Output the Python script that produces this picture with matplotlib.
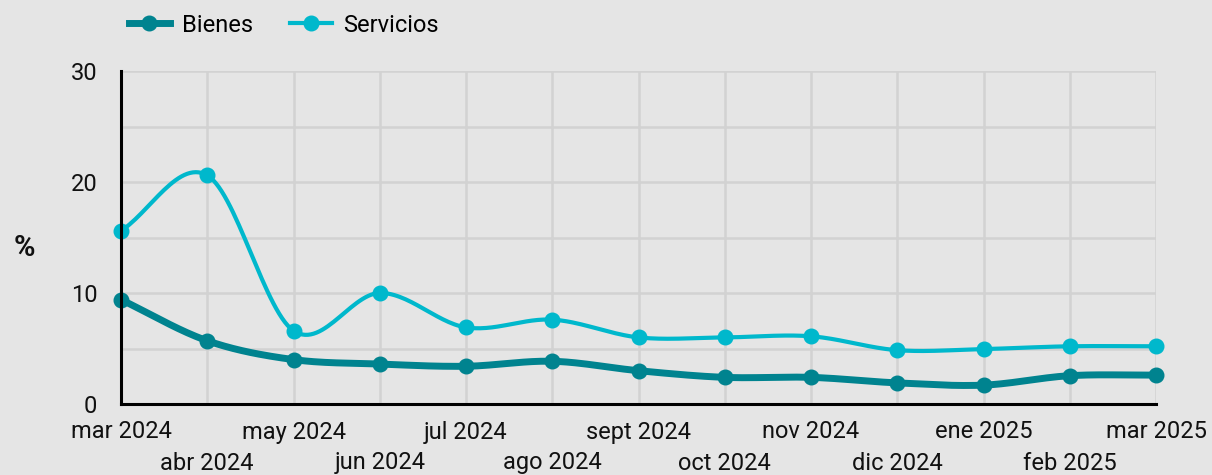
import numpy as np
import matplotlib
matplotlib.use("Agg")
import matplotlib.pyplot as plt
from matplotlib.lines import Line2D

plt.rcParams['font.family'] = ['Roboto', 'DejaVu Sans']

months = ["mar 2024", "abr 2024", "may 2024", "jun 2024", "jul 2024", "ago 2024",
          "sept 2024", "oct 2024", "nov 2024", "dic 2024", "ene 2025", "feb 2025", "mar 2025"]
bienes = [9.4, 5.7, 4.0, 3.6, 3.4, 3.85, 3.0, 2.4, 2.4, 1.9, 1.7, 2.55, 2.6]
servicios = [15.6, 20.6, 6.6, 10.0, 6.9, 7.6, 6.0, 6.0, 6.1, 4.85, 4.95, 5.2, 5.2]
yticks = [0, 10, 20, 30]

c_b = "#00838f"
c_s = "#00b8cc"
bg = "#e5e5e5"
grid_c = "#d2d2d2"


def smooth(x, y, n=30, t=0.5):
    x = np.asarray(x, float)
    y = np.asarray(y, float)
    xs, ys = [], []
    N = len(x)
    for i in range(N - 1):
        p0 = y[i - 1] if i > 0 else y[i]
        p1, p2 = y[i], y[i + 1]
        p3 = y[i + 2] if i + 2 < N else y[i + 1]
        m1 = t * (p2 - p0) / (2 if i > 0 else 1)
        m2 = t * (p3 - p1) / (2 if i + 2 < N else 1)
        s = np.linspace(0, 1, n, endpoint=False)
        h00 = 2 * s**3 - 3 * s**2 + 1
        h10 = s**3 - 2 * s**2 + s
        h01 = -2 * s**3 + 3 * s**2
        h11 = s**3 - s**2
        xs.append(x[i] + s * (x[i + 1] - x[i]))
        ys.append(h00 * p1 + h10 * m1 * 2 + h01 * p2 + h11 * m2 * 2)
    xs.append([x[-1]])
    ys.append([y[-1]])
    return np.concatenate(xs), np.concatenate(ys)


fig = plt.figure(figsize=(12.12, 4.75), dpi=100, facecolor=bg)
ax = fig.add_axes([121 / 1212, 71 / 475, (1156 - 121) / 1212, (404 - 71) / 475])
ax.set_facecolor(bg)

x = np.arange(len(months))
ax.set_xlim(0, len(months) - 1)
ax.set_ylim(0, 30)

for v in range(5, 31, 5):
    ax.axhline(v, color=grid_c, lw=1.8, zorder=0)
for xi in x:
    ax.axvline(xi, color=grid_c, lw=1.8, zorder=0)

xb, yb = smooth(x, bienes, t=0.5)
xs_, ys_ = smooth(x, servicios, t=0.5)
ax.plot(xs_, ys_, color=c_s, lw=3, zorder=3, clip_on=False, solid_capstyle='round')
ax.plot(x, servicios, 'o', color=c_s, ms=10.5, zorder=4, clip_on=False)
ax.plot(xb, yb, color=c_b, lw=5, zorder=5, clip_on=False, solid_capstyle='round')
ax.plot(x, bienes, 'o', color=c_b, ms=10.5, zorder=6, clip_on=False)

for sp in ['top', 'right']:
    ax.spines[sp].set_visible(False)
ax.spines['left'].set_linewidth(2.2)
ax.spines['bottom'].set_linewidth(2.2)
ax.spines['left'].set_zorder(7)
ax.spines['bottom'].set_zorder(7)

ax.set_yticks(yticks)
ax.set_yticklabels([str(v) for v in yticks], fontsize=17, color="#111111")
ax.tick_params(axis='y', length=0, pad=17)
ax.set_xticks(x)
ax.set_xticklabels([])
ax.tick_params(axis='x', length=0)
for i, m in enumerate(months):
    off = -28 if i % 2 == 0 else -59
    ax.annotate(m, (i, 0), xytext=(0, off), textcoords='offset pixels',
                ha='center', va='center', fontsize=17, color="#111111",
                annotation_clip=False)

fig.text(24 / 1212, 1 - 248 / 475, "%", fontsize=21, fontweight='bold',
         ha='center', va='center', color="#111111")

handles = [Line2D([], [], color=c_b, lw=5, marker='o', ms=10.5),
           Line2D([], [], color=c_s, lw=3, marker='o', ms=10.5)]
fig.legend(handles, ["Bienes", "Servicios"], loc='center left',
           bbox_to_anchor=(112 / 1212, 1 - 25 / 475), ncol=2, frameon=False,
           fontsize=17, handlelength=1.75, columnspacing=1.6, handletextpad=0.5,
           borderpad=0.2)

fig.savefig("out.png", dpi=100, facecolor=bg)
